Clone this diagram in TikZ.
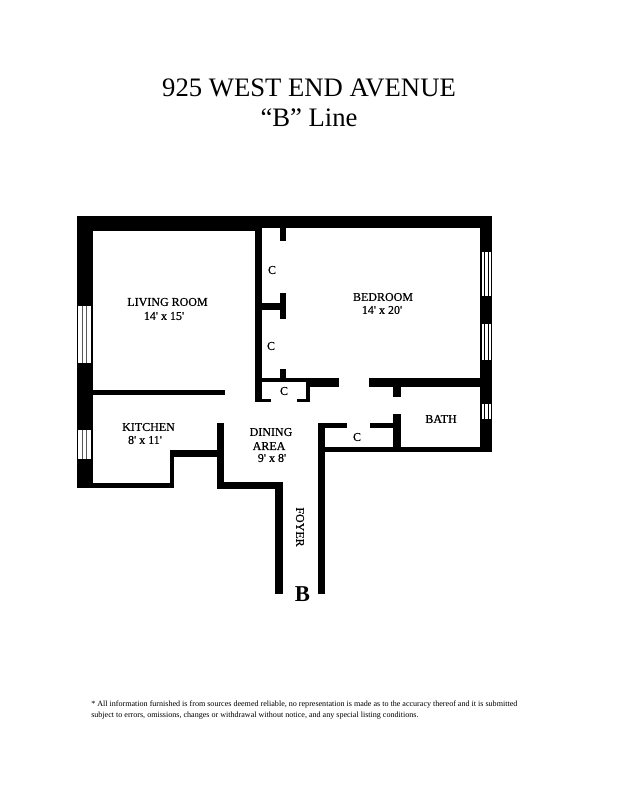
\documentclass[tikz,border=0pt]{standalone}
\usepackage{fontspec}
\setmainfont{Liberation Serif}
\newfontfamily\planfont[FakeBold=0.6]{Liberation Serif}
\tikzset{
  wall/.style={fill=black,draw=none},
  glass/.style={fill=white,draw=none},
  pane/.style={draw=black,line width=0.75pt},
  paleframe/.style={draw=black!65,line width=0.75pt},
  room/.style={inner sep=0.75pt,align=center,font=\planfont\fontsize{9}{10}\selectfont},
  closet/.style={inner sep=0.75pt,font=\planfont\fontsize{9}{10}\selectfont},
  note/.style={anchor=west,inner sep=0pt,font=\fontsize{6.05}{7}\selectfont}
}
\begin{document}
\begin{tikzpicture}[x=0.75pt,y=0.75pt,yscale=-1,xscale=1]
\useasboundingbox (0,0) rectangle (618,800);

% Outer walls
\fill[wall] (77,216) rectangle (492,228);
\fill[wall] (77,216) rectangle (255,231);
\fill[wall] (77,216) rectangle (93,488);
\fill[wall] (480,216) rectangle (492,452);
\fill[wall] (77,483) rectangle (174,488);
\fill[wall] (170,450) rectangle (174,488);
\fill[wall] (170,450) rectangle (224,457);
\fill[wall] (217,423) rectangle (224,489);
\fill[wall] (217,482) rectangle (283,489);
\fill[wall] (275,482) rectangle (283,594);
\fill[wall] (318,423) rectangle (325,594);
\fill[wall] (325,447) rectangle (492,452);

% Inner walls
\fill[wall] (93,390) rectangle (225,395);
\fill[wall] (255,228) rectangle (262,402);
\fill[wall] (280,228) rectangle (286,241);
\fill[wall] (280,293) rectangle (286,319);
\fill[wall] (262,303) rectangle (280,310);
\fill[wall] (280,369) rectangle (286,378);
\fill[wall] (255,378) rectangle (307,382);
\fill[wall] (307,378) rectangle (339,387);
\fill[wall] (369,378) rectangle (480,387);
\fill[wall] (306,378) rectangle (310,402);
\fill[wall] (255,399) rectangle (271,402);
\fill[wall] (297,399) rectangle (310,402);
\fill[wall] (393,387) rectangle (401,397);
\fill[wall] (393,414) rectangle (401,448);
\fill[wall] (318,423) rectangle (347,428);
\fill[wall] (370,423) rectangle (393,428);

% Windows
\fill[glass] (78,306) rectangle (91,363);
\foreach \x in {82,86} {\draw[paleframe] (\x,306) -- (\x,363);}
\fill[glass] (78,430) rectangle (91,459);
\foreach \x in {82,86} {\draw[paleframe] (\x,430) -- (\x,459);}
\fill[glass] (482,252) rectangle (491,296);
\foreach \x in {484.8,488} {\draw[pane] (\x,252) -- (\x,296);}
\fill[glass] (482,324) rectangle (491,360);
\foreach \x in {484.8,488} {\draw[pane] (\x,324) -- (\x,360);}
\fill[glass] (482,404) rectangle (491,419);
\foreach \x in {484.8,488} {\draw[pane] (\x,404) -- (\x,419);}

% Text Node
\node (title) at (309,88) [inner sep=0pt,font=\fontsize{20}{24}\selectfont] {925 WEST END AVENUE};
% Text Node
\node (subtitle) at (309,118) [inner sep=0pt,font=\fontsize{20}{24}\selectfont] {``B'' Line};
% Text Node
\node (living) at (167.5,302) [room] {LIVING ROOM};
\node (livingsize) at (164,316) [room] {14' x 15'};
% Text Node
\node (bedroom) at (383,297) [room] {BEDROOM};
\node (bedroomsize) at (382,310) [room] {14' x 20'};
% Text Node
\node (kitchen) at (148.5,427) [room] {KITCHEN};
\node (kitchensize) at (145,440) [room] {8' x 11'};
% Text Node
\node (dining) at (271,432) [room] {DINING};
\node (area) at (269,446) [room] {AREA};
\node (diningsize) at (272,458) [room] {9' x 8'};
% Text Node
\node (bath) at (441,419) [room] {BATH};
% Text Node
\node (foyer) at (300,527) [room,rotate=-90] {FOYER};
% Text Node
\node (entry) at (302.5,594) [inner sep=0pt,font=\bfseries\fontsize{17}{19}\selectfont] {B};
% Text Node
\node (closeta) at (272,270) [closet] {C};
\node (closetb) at (271,346) [closet] {C};
\node (closetc) at (284,391) [closet] {C};
\node (closetd) at (357,437) [closet] {C};
% Text Node
\node (notea) at (91,705) [note] {* All information furnished is from sources deemed reliable, no representation is made as to the accuracy thereof and it is submitted};
\node (noteb) at (91,716) [note] {subject to errors, omissions, changes or withdrawal without notice, and any special listing conditions.};

\end{tikzpicture}
\end{document}
